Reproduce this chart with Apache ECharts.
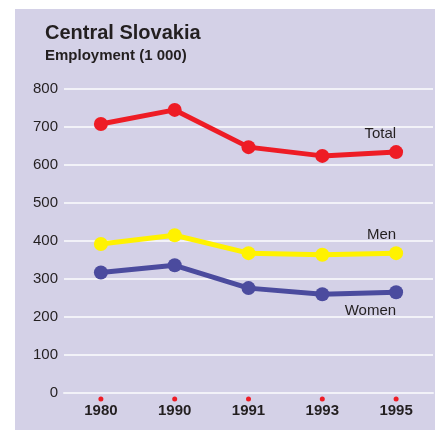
<!DOCTYPE html>
<html>
<head>
<meta charset="utf-8">
<script src="https://cdn.jsdelivr.net/npm/echarts@6/dist/echarts.min.js"></script>
<style>
	body{margin:0;background:#fff;}
	#chart{width:435px;height:430px;}
</style>
</head>
<body>
<div id="chart"></div>
<script>
var years = ['1980', '1990', '1991', '1993', '1995'];
var total = [708, 745, 647, 624, 634];
var men = [392, 415, 368, 364, 368];
var women = [317, 336, 276, 260, 265];
var yTicks = [0, 100, 200, 300, 400, 500, 600, 700, 800];

var FONT = '"Liberation Sans", Arial, sans-serif';

//last point carries the series name
function withEndLabel(values, name, pos){
	return values.map(function(v, i){
		if(i < values.length - 1){ return v; }
		return {
			value: v,
			label: {
				show: true, formatter: name, position: pos, align: 'right',
				distance: 4, color: '#231f20', fontSize: 15, fontFamily: FONT
			}
		};
	});
}

function lineSeries(name, values, color, pos){
	return {
		name: name,
		type: 'line',
		data: withEndLabel(values, name, pos),
		symbol: 'circle',
		symbolSize: 14,
		lineStyle: {color: color, width: 5},
		itemStyle: {color: color},
		emphasis: {disabled: true},
		z: 3
	};
}

var chart = echarts.init(document.getElementById('chart'));
var option = {
	animation: false,
	backgroundColor: '#fff',
	graphic: [{
		type: 'rect', left: 15, top: 9, z: -10,
		shape: {width: 420, height: 421},
		style: {fill: '#d4d1e7'}
	}],
	title: {
		text: 'Central Slovakia',
		subtext: 'Employment (1 000)',
		left: 40, top: 18,
		itemGap: 5,
		textStyle: {fontFamily: FONT, fontSize: 20, fontWeight: 'bold', color: '#231f20'},
		subtextStyle: {fontFamily: FONT, fontSize: 15, fontWeight: 'bold', color: '#231f20'}
	},
	grid: {left: 64, right: 2, top: 89, bottom: 37},
	xAxis: {
		type: 'category',
		data: years,
		boundaryGap: true,
		axisLine: {show: true, lineStyle: {color: '#f2f2f8', width: 2}},
		axisTick: {show: false},
		axisLabel: {
			margin: 3,
			formatter: function(v){ return '{d| }\n{y|' + v + '}'; },
			rich: {
				d: {width: 5, height: 5, lineHeight: 6, borderRadius: 3, backgroundColor: '#ee1c25', fontSize: 1},
				y: {fontFamily: FONT, fontSize: 15, fontWeight: 'bold', color: '#231f20', lineHeight: 18}
			}
		}
	},
	yAxis: {
		type: 'value',
		min: yTicks[0],
		max: yTicks[yTicks.length - 1],
		interval: 100,
		axisLine: {show: false},
		axisTick: {show: false},
		axisLabel: {fontFamily: FONT, fontSize: 15, color: '#231f20', margin: 6},
		splitLine: {lineStyle: {color: '#f2f2f8', width: 2}}
	},
	series: [
		lineSeries('Total', total, '#ee1c25', 'top'),
		lineSeries('Men', men, '#fff200', 'top'),
		lineSeries('Women', women, '#4b4b9e', 'bottom')
	]
};
chart.setOption(option);
</script>
</body>
</html>
